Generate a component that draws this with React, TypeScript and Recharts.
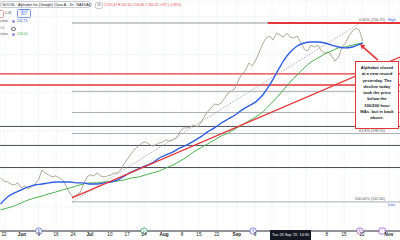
import {
  ComposedChart,
  Line,
  XAxis,
  YAxis,
  CartesianGrid,
  ReferenceLine,
  ReferenceDot,
} from "recharts";

// x = trading-day index counted from Thu 22 May 2025
const closes = [
  175.2, 173.6, 173.1, 172.0, 171.5, 172.6, 169.9, 171.0, 169.4, 170.5, 172.0, 174.2,
  179.4, 177.8, 176.8, 175.7, 176.3, 175.2, 174.2, 171.0, 167.3, 165.2,
  166.3, 167.3, 171.5, 175.7, 176.8, 176.3, 177.8, 176.3, 175.7, 176.3,
  176.8, 177.8, 177.8, 179.9, 183.1, 185.7, 188.3, 190.4, 192.0, 193.6,
  194.1, 193.1, 192.0, 192.6, 193.6, 194.1, 195.2, 194.6, 195.2, 196.2,
  199.4, 201.5, 201.5, 202.0, 203.1, 202.0, 204.1, 207.3, 209.9, 212.0,
  214.1, 213.6, 214.6, 217.3, 219.9, 221.0, 222.5, 226.7, 229.9, 231.5,
  235.7, 234.1, 237.2, 241.4, 245.7, 248.8, 249.9, 247.8, 251.4, 250.4,
  249.3, 251.4, 249.3, 248.8, 249.9, 246.7, 243.0, 242.0, 245.1, 244.1,
  245.1, 242.0, 240.9, 241.4, 239.3, 236.7, 238.8, 244.1, 246.2, 249.9,
  252.5, 254.1, 253.0, 247.2,
];
const firstDay = -1;

const maDays = [
  -1, 1, 3, 5, 7, 9, 11, 13, 15, 17, 19, 21, 23, 25, 27, 29, 31, 33, 35, 37, 39, 41, 43, 45,
  47, 49, 51, 53, 55, 57, 59, 61, 63, 65, 67, 69, 71, 73, 75, 77, 79, 81, 83, 85, 87, 89, 91,
  93, 95, 97, 99, 101, 104,
];
const sma100 = [
  161.5, 165.2, 167.3, 168.9, 170.5, 171.5, 172.0, 172.6, 173.1, 173.1,
  173.1, 172.6, 172.6, 172.0, 172.0, 172.6, 173.1, 174.2, 176.3, 178.4,
  180.0, 181.5, 183.1, 185.7, 187.3, 188.9, 191.0, 192.6, 194.6, 196.8,
  199.4, 201.5, 204.1, 206.2, 208.3, 211.0, 213.1, 215.2, 218.8, 224.1,
  230.4, 236.7, 241.4, 244.6, 246.2, 246.7, 246.7, 246.2, 245.1, 244.1,
  243.6, 244.1, 246.2,
];
const sma200 = [
  158.4, 159.4, 160.5, 162.1, 163.6, 164.7, 165.7, 166.8, 167.8, 168.9,
  169.9, 171.0, 172.0, 172.6, 172.6, 173.1, 173.1, 173.6, 174.2, 175.2,
  175.7, 176.8, 177.8, 178.9, 180.5, 182.0, 184.1, 186.2, 188.9, 191.0,
  193.1, 195.2, 197.3, 198.9, 201.0, 203.1, 205.2, 207.3, 209.9, 213.6,
  217.3, 221.5, 225.7, 229.4, 233.0, 236.2, 238.3, 240.4, 242.0, 243.6,
  244.1, 245.1, 246.2,
];

// grid days; labels under the crosshair date box are hidden, as in the screenshot
const tickDays = [
  0, 5.2, 10.1, 15.1, 20, 24.9, 30.7, 35.7, 40.6, 46.4, 51.6, 56.5, 61.7, 67.5, 72.8, 77.7,
  82.6, 87.5, 93.6, 98.6, 103.8, 111.6,
];
const tickLabels = [
  "22", "Jun", "9", "16", "24", "Jul", "10", "17", "24", "Aug", "8", "15", "22", "Sep", "9",
  "", "", "", "8", "15", "22", "Nov",
];
const monthLabels = ["Jun", "Jul", "Aug", "Sep", "Oct", "Nov"];
const priceTicks = [150, 160, 170, 180, 190, 200, 210, 220, 230, 240, 250, 260];

// Fibonacci retracement from the June low to the October high
const fibLow = 162.6;
const fibHigh = 256.7;
const fibStartDay = 19.7;
const fibEndDay = 103.2;
const fibLevels = [0.382, 0.5, 0.618, 1];
const redLevels = [229.9, 224.1];
const supportLevels = [202.3, 192.3, 180.7];
const highRedStartDay = 76.5;
const trendStart = { x: 19.7, y: 164.7 };
const trendEnd = { x: 114.8, y: 238.8 };
const arrowTip = { x: 103.2, y: 245.6 };
const arrowTail = { x: 108.4, y: 237.2 };

const eventDays = [10.1, 40.6, 72.2, 103.2, 109.6];
const eventColors = ["#5b6cd6", "#3aa06a", "#5b6cd6", "#a35bd0", "#a35bd0"];
const eventLetters = ["E", "D", "S", "E", "!"];

const xDomain = [-1.16, 114.8];
const yDomain = [147.3, 268.8];

const noteLines = [
  "Alphabet closed",
  "at a new record",
  "yesterday. The",
  "decline today",
  "took the price",
  "below the",
  "100/200 hour",
  "MAs, but in back",
  "above.",
];

const RED = "#e2363a";
const FONT = "Arial, 'Liberation Sans', sans-serif";

const priceData = closes.map((c, i) => ({ t: firstDay + i, c }));
const maData = maDays.map((t, i) => ({ t, a: sma100[i], b: sma200[i] }));

function DateTick({ x, y, payload }: any) {
  const i = tickDays.indexOf(payload.value);
  const label = tickLabels[i];
  if (!label) return <g />;
  const bold = monthLabels.includes(label);
  return (
    <text
      x={x}
      y={y + 5}
      textAnchor="middle"
      fontSize={4.6}
      fontFamily={FONT}
      fontWeight={bold ? 700 : 400}
      fill="#131722"
    >
      {label}
    </text>
  );
}

function levelLabel(text: string, tag: string, tagColor: string, below: boolean) {
  return (props: any) => {
    const vb = props.viewBox;
    const right = vb.x + vb.width;
    const y = vb.y;
    return (
      <g fontFamily={FONT} fontSize={3.8}>
        <text x={right - 15} y={y - 1.8} textAnchor="end" fill="#555">
          {text}
        </text>
        <text x={right - 12} y={below ? y + 4.2 : y - 1.8} fill={tagColor}>
          {tag}
        </text>
      </g>
    );
  };
}

function ArrowShape(p: any) {
  const pts = [
    { x: p.x1, y: p.y1 },
    { x: p.x2, y: p.y2 },
  ].sort((a, b) => a.y - b.y);
  const tip = pts[0];
  const tail = pts[1];
  const b = Math.atan2(tail.y - tip.y, tail.x - tip.x);
  const L = 5.5;
  const s = 0.5;
  const w1 = `${tip.x + L * Math.cos(b - s)},${tip.y + L * Math.sin(b - s)}`;
  const w2 = `${tip.x + L * Math.cos(b + s)},${tip.y + L * Math.sin(b + s)}`;
  return (
    <g>
      <line x1={tip.x + 2} y1={tip.y + 2} x2={tail.x} y2={tail.y} stroke={RED} strokeWidth={1.6} />
      <polygon points={`${tip.x},${tip.y} ${w1} ${w2}`} fill={RED} />
    </g>
  );
}

function eventShape(i: number) {
  return (p: any) => {
    const c = eventColors[i];
    const square = eventLetters[i] === "!";
    return (
      <g>
        {square ? (
          <rect x={p.cx - 3} y={p.cy - 3} width={6} height={6} rx={1} fill="#fff" stroke={c} strokeWidth={0.8} />
        ) : (
          <circle cx={p.cx} cy={p.cy} r={3.2} fill="#fff" stroke={c} strokeWidth={0.8} />
        )}
        <text x={p.cx} y={p.cy + 1.4} textAnchor="middle" fontSize={3.6} fontFamily={FONT} fill={c}>
          {eventLetters[i]}
        </text>
      </g>
    );
  };
}

const small = { position: "absolute" as const, fontFamily: FONT, whiteSpace: "nowrap" as const };

export default function App() {
  return (
    <div
      style={{
        position: "absolute",
        left: 0,
        top: 0,
        width: 400,
        height: 240,
        overflow: "hidden",
        background: "#fff",
      }}
    >
      <ComposedChart width={400} height={240} margin={{ top: 0, right: 0, bottom: 0, left: 0 }}>
        <CartesianGrid stroke="#eceff3" strokeWidth={0.6} />
        <XAxis
          type="number"
          dataKey="t"
          domain={xDomain}
          allowDataOverflow
          ticks={tickDays}
          interval={0}
          tick={<DateTick />}
          tickLine={false}
          tickSize={0}
          tickMargin={0}
          axisLine={{ stroke: "#2a2e39", strokeWidth: 1.2 }}
          height={9}
        />
        <YAxis type="number" domain={yDomain} allowDataOverflow ticks={priceTicks} hide width={0} />

        {/* support lines */}
        {supportLevels.map((v) => (
          <ReferenceLine key={"s" + v} y={v} stroke="#4a4e57" strokeWidth={1} ifOverflow="visible" />
        ))}
        {redLevels.map((v) => (
          <ReferenceLine key={"r" + v} y={v} stroke={RED} strokeWidth={1.3} ifOverflow="visible" />
        ))}

        {/* fib levels */}
        <ReferenceLine
          segment={[
            { x: fibStartDay, y: fibHigh },
            { x: xDomain[1], y: fibHigh },
          ]}
          stroke="#787b86"
          strokeWidth={0.8}
          ifOverflow="visible"
        />
        {fibLevels.map((f) => {
          const v = fibHigh - f * (fibHigh - fibLow);
          const lab =
            f === 0.618
              ? levelLabel(`61.8% (${v.toFixed(2)})`, "", "#555", false)
              : f === 1
              ? levelLabel(`100.00% (${v.toFixed(2)})`, "Low", "#2962ff", true)
              : undefined;
          return (
            <ReferenceLine
              key={"f" + f}
              segment={[
                { x: fibStartDay, y: v },
                { x: xDomain[1], y: v },
              ]}
              stroke="#9598a1"
              strokeWidth={0.8}
              ifOverflow="visible"
              label={lab}
            />
          );
        })}
        <ReferenceLine
          segment={[
            { x: fibStartDay, y: fibLow },
            { x: fibEndDay, y: fibHigh },
          ]}
          stroke="#9598a1"
          strokeWidth={0.8}
          strokeDasharray="1.5 1.5"
          ifOverflow="visible"
        />
        <ReferenceLine
          segment={[
            { x: highRedStartDay, y: fibHigh },
            { x: xDomain[1], y: fibHigh },
          ]}
          stroke={RED}
          strokeWidth={1.8}
          ifOverflow="visible"
          label={levelLabel(`0.00% (${fibHigh.toFixed(2)})`, "High", "#2962ff", false)}
        />

        <Line
          data={priceData}
          dataKey="c"
          type="linear"
          stroke="#a99f8b"
          strokeWidth={0.9}
          dot={false}
          activeDot={false}
          isAnimationActive={false}
        />
        <Line
          data={maData}
          dataKey="b"
          type="monotone"
          stroke="#4caf50"
          strokeWidth={1}
          dot={false}
          activeDot={false}
          isAnimationActive={false}
        />
        <Line
          data={maData}
          dataKey="a"
          type="monotone"
          stroke="#2f5fe0"
          strokeWidth={1.4}
          dot={false}
          activeDot={false}
          isAnimationActive={false}
        />

        <ReferenceLine segment={[trendStart, trendEnd]} stroke={RED} strokeWidth={1.3} ifOverflow="visible" />
        <ReferenceLine segment={[arrowTip, arrowTail]} ifOverflow="visible" shape={ArrowShape} />

        {eventDays.map((d, i) => (
          <ReferenceDot key={"e" + i} x={d} y={yDomain[0]} r={3} ifOverflow="visible" shape={eventShape(i)} />
        ))}
      </ComposedChart>

      {/* header */}
      <div
        style={{
          ...small,
          left: 0,
          top: 1,
          height: 7,
          width: 90,
          border: "0.8px solid #c9ccd3",
          borderRadius: 2,
          fontSize: 3.6,
          lineHeight: "7px",
          color: "#131722",
          paddingLeft: 1,
          boxSizing: "border-box",
        }}
      >
        GOOGL · Alphabet Inc (Google) Class A · 1h · NASDAQ
      </div>
      <div
        style={{
          ...small,
          left: 95,
          top: 2,
          width: 6,
          height: 5,
          border: "0.8px solid #c9ccd3",
          borderRadius: 2,
          fontSize: 3,
          lineHeight: "5px",
          textAlign: "center",
          color: "#555",
        }}
      >
        1h
      </div>
      <div style={{ ...small, left: 104, top: 2.5, fontSize: 3.2, lineHeight: "5px", color: "#e2363a" }}>
        O 251.47 H 251.92 L 250.36 C 250.53 −0.97 (−0.39%)
      </div>
      <div
        style={{
          ...small,
          left: -3,
          top: 10,
          width: 5,
          height: 6,
          border: "0.8px solid #e0a0a0",
          borderRadius: 1.5,
        }}
      />
      <div style={{ ...small, left: 5, top: 11, fontSize: 3.2, lineHeight: "5px", color: "#555" }}>0.08</div>
      <div
        style={{
          ...small,
          left: 17,
          top: 9,
          width: 12,
          height: 7,
          border: "0.8px solid #7d95e8",
          borderRadius: 1.5,
          fontSize: 2.6,
          lineHeight: "3.2px",
          textAlign: "center",
          color: "#2962ff",
        }}
      >
        250.53
        <br />
        BUY
      </div>
      <div style={{ ...small, left: 0, top: 19, fontSize: 3.4, lineHeight: "5px", color: "#555" }}>close</div>
      <div style={{ ...small, left: 11.5, top: 20, width: 3, height: 3, borderRadius: 2, background: "#9b8be0" }} />
      <div style={{ ...small, left: 17, top: 19, fontSize: 3.4, lineHeight: "5px", color: "#2f5fe0" }}>242.73</div>
      <div style={{ ...small, left: 0, top: 25.5, fontSize: 3.4, lineHeight: "5px", color: "#999" }}>Vol</div>
      <div
        style={{
          ...small,
          left: 10.5,
          top: 26.5,
          width: 3,
          height: 2.4,
          borderRadius: 2,
          border: "0.8px solid #777",
        }}
      />
      <div style={{ ...small, left: 0, top: 32, fontSize: 3.4, lineHeight: "5px", color: "#555" }}>close</div>
      <div style={{ ...small, left: 11.5, top: 33, width: 3, height: 3, borderRadius: 2, background: "#9b8be0" }} />
      <div style={{ ...small, left: 17, top: 32, fontSize: 3.4, lineHeight: "5px", color: "#4caf50" }}>233.04</div>

      {/* annotation */}
      <div
        style={{
          ...small,
          left: 355,
          top: 61,
          width: 42,
          height: 63,
          border: `1.2px solid ${RED}`,
          background: "#fff",
          paddingTop: 3,
          textAlign: "center",
          fontSize: 4.2,
          fontWeight: 700,
          lineHeight: "6.3px",
          color: "#131722",
        }}
      >
        {noteLines.map((l) => (
          <div key={l}>{l}</div>
        ))}
      </div>

      {/* crosshair date */}
      <div
        style={{
          ...small,
          left: 270,
          top: 230,
          width: 41,
          height: 10,
          background: "#131722",
          color: "#fff",
          fontSize: 3.8,
          lineHeight: "10px",
          textAlign: "center",
        }}
      >
        Tue 23 Sep '25&nbsp;&nbsp;14:30
      </div>
    </div>
  );
}
